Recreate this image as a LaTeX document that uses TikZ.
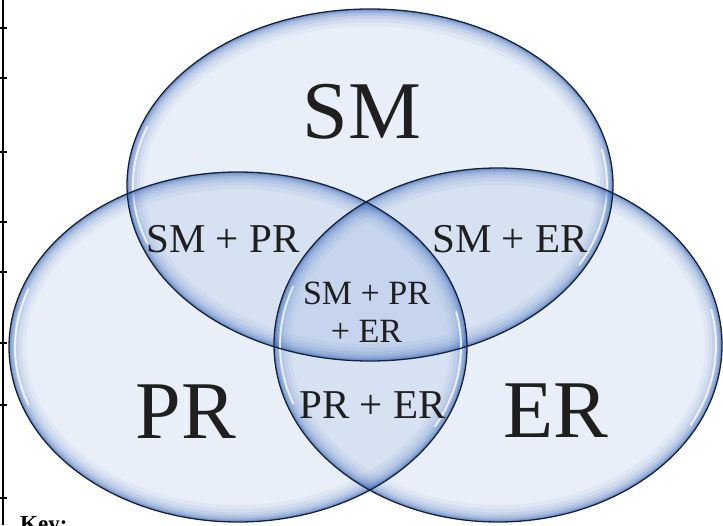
\documentclass[tikz,border=0pt]{standalone}
\usepackage{fontspec}
\setmainfont{Liberation Serif}
\definecolor{bubblefill}{RGB}{91,138,205}
\definecolor{rimblue}{RGB}{50,100,182}
\definecolor{edgenavy}{RGB}{22,34,60}
\newcommand\vennfill[4]{\fill[bubblefill, fill opacity=0.13] (#1,#2) ellipse [x radius=#3, y radius=#4];}
\newcommand\vennrim[4]{%
  \begin{scope}
    \clip (#1,#2) ellipse [x radius=#3, y radius=#4];
    \foreach \w/\o in {34/0.05,26/0.07,19/0.09,13/0.13,8/0.18,4/0.3}
      \draw[rimblue, line width=\w pt, opacity=\o] (#1,#2) ellipse [x radius=#3, y radius=#4];
  \end{scope}
  \draw[white, line width=1.8pt, opacity=0.8, line cap=round]
    ([shift={(#1,#2)}]160:{#3-6} and {#4-6}) arc[start angle=160, end angle=200, x radius={#3-6}, y radius={#4-6}];
  \draw[white, line width=1.8pt, opacity=0.8, line cap=round]
    ([shift={(#1,#2)}]-12:{#3-6} and {#4-6}) arc[start angle=-12, end angle=28, x radius={#3-6}, y radius={#4-6}];
}
\newcommand\vennedge[4]{\draw[edgenavy, line width=1.3pt] (#1,#2) ellipse [x radius=#3, y radius=#4];}
\tikzset{
  bigtxt/.style={inner sep=0pt, font=\fontsize{82}{82}\selectfont, text=black!88},
  midtxt/.style={inner sep=0pt, font=\fontsize{41}{41}\selectfont, text=black!88},
  smalltxt/.style={inner sep=0pt, font=\fontsize{34}{38}\selectfont, text=black!88, align=center},
  axisline/.style={black, line width=1.5pt}
}
\begin{document}
\begin{tikzpicture}[x=1pt,y=-1pt]
\useasboundingbox (0,0) rectangle (723,525);
\fill[white] (0,0) rectangle (723,525);
\clip (0,0) rectangle (723,525);
\coordinate (smc) at (370,185);
\coordinate (prc) at (238,347);
\coordinate (erc) at (498,345);
% fills
\vennfill{370}{185}{243}{176}
\vennfill{238}{347}{229}{175}
\vennfill{498}{345}{224}{177}
% rims
\vennrim{370}{185}{243}{176}
\vennrim{238}{347}{229}{175}
\vennrim{498}{345}{224}{177}
% outlines
\vennedge{370}{185}{243}{176}
\vennedge{238}{347}{229}{175}
\vennedge{498}{345}{224}{177}
% left axis
\coordinate (axtop) at (3,0);
\coordinate (axbot) at (3,525);
\draw[axisline] (axtop) -- (axbot);
\foreach \t in {28,78,152,222,272,343,405,498}
  \draw[black, line width=1.2pt] (0,\t) -- (7,\t);
% labels
\node[bigtxt] (sm) at (362,112) {SM};
\node[bigtxt] (pr) at (186,412) {PR};
\node[bigtxt] (er) at (556,411) {ER};
\node[midtxt] (smpr) at (223,239.5) {SM + PR};
\node[midtxt] (smer) at (510,239.5) {SM + ER};
\node[midtxt] (prer) at (372.5,405.5) {PR + ER};
\node[smalltxt] (all) at (366.5,312) {SM + PR\\+ ER};
\node[inner sep=0pt, anchor=north west, font=\fontsize{23}{23}\selectfont\bfseries] (key) at (20,516) {Key:};
\end{tikzpicture}
\end{document}
